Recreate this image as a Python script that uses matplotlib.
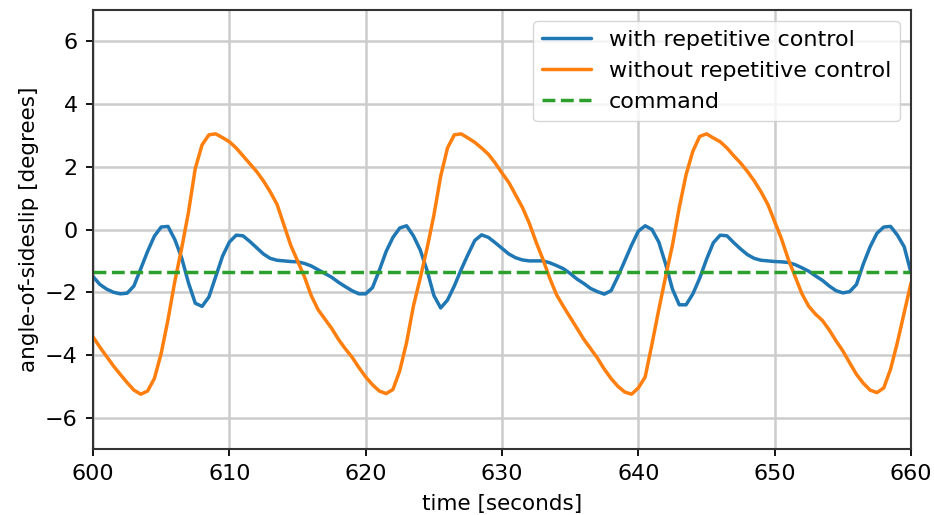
import numpy as np
import matplotlib
matplotlib.use("Agg")
import matplotlib.pyplot as plt

# sample times (every 0.5 s from 600 to 660)
time = np.arange(600, 660.25, 0.5)

# angle-of-sideslip with repetitive control [deg]
with_rc = [
    -1.5, -1.75, -1.9, -2.0, -2.05, -2.03, -1.8, -1.25, -0.7, -0.21,
    0.08, 0.1, -0.32, -0.9, -1.7, -2.35, -2.45, -2.15, -1.5, -0.85,
    -0.4, -0.18, -0.2, -0.38, -0.58, -0.78, -0.92, -0.98, -1.0, -1.02,
    -1.03, -1.08, -1.16, -1.28, -1.4, -1.52, -1.68, -1.82, -1.95, -2.05,
    -2.05, -1.85, -1.3, -0.7, -0.25, 0.05, 0.12, -0.2, -0.65, -1.3,
    -2.1, -2.5, -2.25, -1.8, -1.28, -0.8, -0.35, -0.17, -0.25, -0.42,
    -0.6, -0.78, -0.9, -0.97, -1.0, -1.0, -1.0, -1.06, -1.15, -1.25,
    -1.4, -1.58, -1.72, -1.88, -1.98, -2.06, -1.95, -1.5, -1.0, -0.5,
    -0.05, 0.12, 0.0, -0.4, -1.1, -1.9, -2.4, -2.4, -2.05, -1.55,
    -0.95, -0.42, -0.18, -0.2, -0.42, -0.62, -0.8, -0.92, -0.98, -1.0,
    -1.02, -1.03, -1.05, -1.12, -1.22, -1.33, -1.48, -1.62, -1.8, -1.95,
    -2.02, -1.98, -1.75, -1.1, -0.55, -0.12, 0.08, 0.1, -0.18, -0.55,
    -1.38,
]

# angle-of-sideslip without repetitive control [deg]
without_rc = [
    -3.42, -3.75, -4.05, -4.35, -4.62, -4.88, -5.12, -5.25, -5.15, -4.75,
    -3.95, -2.87, -1.65, -0.6, 0.55, 1.95, 2.7, 3.02, 3.05, 2.93,
    2.8, 2.6, 2.35, 2.1, 1.85, 1.55, 1.2, 0.8, 0.15, -0.5,
    -1.0, -1.5, -2.1, -2.55, -2.85, -3.15, -3.5, -3.8, -4.07, -4.4,
    -4.7, -4.95, -5.15, -5.23, -5.1, -4.5, -3.6, -2.44, -1.55, -0.6,
    0.45, 1.7, 2.6, 3.02, 3.05, 2.92, 2.78, 2.6, 2.4, 2.12,
    1.8, 1.5, 1.1, 0.7, 0.2, -0.4, -0.95, -1.55, -2.08, -2.45,
    -2.8, -3.15, -3.5, -3.8, -4.1, -4.45, -4.75, -5.0, -5.18, -5.25,
    -5.05, -4.7, -3.65, -2.55, -1.5, -0.5, 0.7, 1.75, 2.5, 2.97,
    3.05, 2.92, 2.8, 2.6, 2.35, 2.12, 1.85, 1.55, 1.2, 0.8,
    0.25, -0.3, -0.95, -1.5, -2.05, -2.45, -2.7, -2.9, -3.2, -3.55,
    -3.87, -4.25, -4.62, -4.9, -5.12, -5.2, -5.05, -4.45, -3.6, -2.65,
    -1.7,
]

command_t = [600, 660]
command_y = [-1.35, -1.35]

fig = plt.figure(figsize=(9.34, 5.15), dpi=100)
ax = fig.add_axes([0.0996, 0.128, 0.8758, 0.8526])

line_kw = dict(lw=2.5, solid_joinstyle='round', solid_capstyle='round')
ax.plot(time, with_rc, color='tab:blue', label='with repetitive control', **line_kw)
ax.plot(time, without_rc, color='tab:orange', label='without repetitive control', **line_kw)
ax.plot(command_t, command_y, color='tab:green', lw=2.5, ls='--', label='command')

ax.set_xlim(600, 660)
ax.set_ylim(-7, 7)
ax.set_yticks([-6, -4, -2, 0, 2, 4, 6])
ax.grid(True, color='#cccccc', lw=1.8)
ax.tick_params(labelsize=16, width=1.3, length=5, pad=6)
for s in ax.spines.values():
    s.set_linewidth(1.5)
    s.set_color('#333333')

ax.set_xlabel('time [seconds]', fontsize=15.5, labelpad=7)
ax.set_ylabel('angle-of-sideslip [degrees]', fontsize=15.5, labelpad=4)
ax.legend(loc='upper right', fontsize=16, handlelength=2.2, borderaxespad=0.5)

fig.savefig('out.png', dpi=100)
